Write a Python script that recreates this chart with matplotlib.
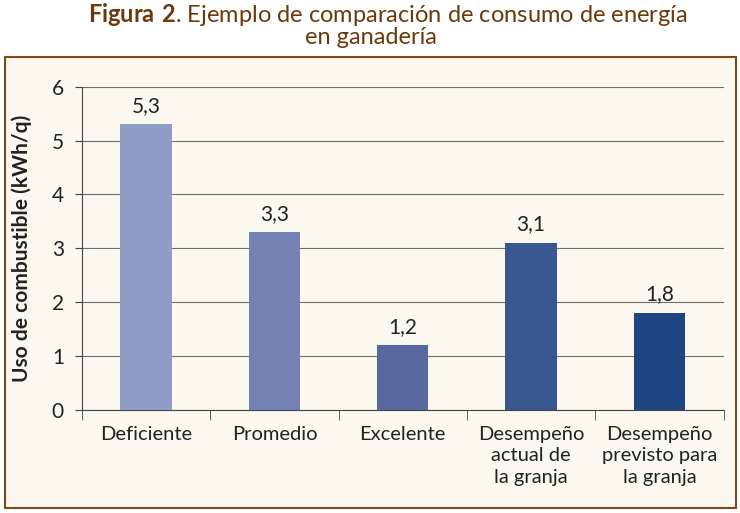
import matplotlib.pyplot as plt
from matplotlib.patches import Rectangle

categorias = ["Deficiente", "Promedio", "Excelente",
              "Desempeño\nactual de\nla granja", "Desempeño\nprevisto para\nla granja"]
valores = [5.3, 3.3, 1.2, 3.1, 1.8]
colores = ["#8F9CC4", "#7382B3", "#5869A0", "#39578F", "#1F4482"]
yticks = [0, 1, 2, 3, 4, 5, 6]

plt.rcParams['font.family'] = ['Lato', 'DejaVu Sans']
plt.rcParams['mathtext.fontset'] = 'custom'
plt.rcParams['mathtext.rm'] = 'Lato'
plt.rcParams['mathtext.bf'] = 'Lato:bold'

fig = plt.figure(figsize=(7.4, 5.13), dpi=100)
fig.patch.set_facecolor("white")

# marco crema
marco = Rectangle((5 / 740, 1 - 508 / 513), 731 / 740, 451 / 513,
                  transform=fig.transFigure, facecolor="#FBF8F0",
                  edgecolor="#7A4A1A", linewidth=1.5, zorder=-5)
fig.patches.append(marco)

fig.text(388 / 740, 1 - 14 / 513,
         r"$\bf{Figura\ 2}$. Ejemplo de comparación de consumo de energía",
         color="#6B3A0C", fontsize=17, ha="center", va="center")
fig.text(371 / 740, 1 - 38 / 513, "en ganadería", color="#6B3A0C", fontsize=17,
         ha="center", va="center")

ax = fig.add_axes([82 / 740, 1 - 409.6 / 513, (723.5 - 82) / 740, (409.6 - 86.7) / 513])
ax.set_facecolor("none")

x = list(range(len(valores)))
ax.bar(x, valores, width=0.40, color=colores, zorder=3)
for xi, v in zip(x, valores):
    ax.annotate(f"{v:.1f}".replace(".", ","), (xi, v), xytext=(0, 6),
                textcoords="offset points", ha="center", va="bottom",
                fontsize=15, color="#222222")

ax.set_xlim(-0.5, 4.5)
ax.set_ylim(0, 6)
ax.set_yticks(yticks)
ax.set_yticklabels([str(t) for t in yticks], fontsize=15, color="#222222")
ax.yaxis.grid(True, color="#6E6E6E", linewidth=0.8, zorder=0)
ax.set_axisbelow(True)

ax.set_xticks(x)
ax.set_xticklabels(categorias, fontsize=14.5, color="#222222", linespacing=1.3)
ax.tick_params(axis="x", length=0, pad=12)
ax.set_xticks([i - 0.5 for i in range(len(valores) + 1)], minor=True)
ax.tick_params(axis="x", which="minor", length=7, color="#444444", direction="out")
ax.tick_params(axis="y", length=5, color="#444444", pad=8)

for s in ["top", "right"]:
    ax.spines[s].set_visible(False)
ax.spines["left"].set_color("#444444")
ax.spines["bottom"].set_color("#444444")

ax.set_ylabel("Uso de combustible (kWh/q)", fontsize=15, fontweight="bold",
              color="#222222", labelpad=14)

fig.savefig("out.png", dpi=100, facecolor="white")
